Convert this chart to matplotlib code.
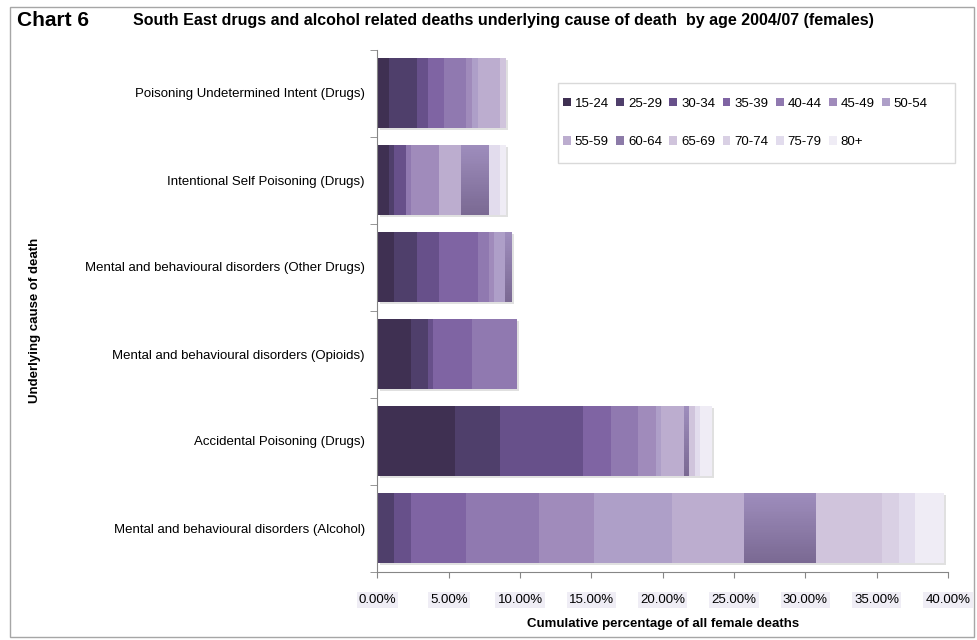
import numpy as np
import matplotlib
matplotlib.use("Agg")
import matplotlib.pyplot as plt
import matplotlib.patheffects as pe
from matplotlib.colors import LinearSegmentedColormap
from matplotlib.patches import Rectangle
from matplotlib.ticker import FixedLocator, PercentFormatter

plt.rcParams['font.family'] = ['Liberation Sans', 'DejaVu Sans']

# causes listed bottom to top
causes = [
    'Mental and behavioural disorders (Alcohol)',
    'Accidental Poisoning (Drugs)',
    'Mental and behavioural disorders (Opioids)',
    'Mental and behavioural disorders (Other Drugs)',
    'Intentional Self Poisoning (Drugs)',
    'Poisoning Undetermined Intent (Drugs)',
]

age_groups = ['15-24', '25-29', '30-34', '35-39', '40-44', '45-49', '50-54',
              '55-59', '60-64', '65-69', '70-74', '75-79', '80+']

# percentage of all female deaths, one list per age group (same order as causes)
pct_15_24 = [0.00, 5.42, 2.34, 1.14, 0.79, 0.79]
pct_25_29 = [1.13, 3.16, 1.19, 1.61, 0.35, 1.96]
pct_30_34 = [1.19, 5.82, 0.35, 1.54, 0.84, 0.77]
pct_35_39 = [3.86, 1.96, 2.73, 2.73, 0.00, 1.12]
pct_40_44 = [5.11, 1.89, 3.16, 0.77, 0.35, 1.54]
pct_45_49 = [3.87, 1.26, 0.00, 0.35, 1.96, 0.42]
pct_50_54 = [5.50, 0.35, 0.00, 0.77, 0.00, 0.42]
pct_55_59 = [5.05, 1.61, 0.00, 0.00, 1.54, 1.54]
pct_60_64 = [5.02, 0.35, 0.00, 0.49, 1.96, 0.00]
pct_65_69 = [4.61, 0.42, 0.00, 0.00, 0.00, 0.42]
pct_70_74 = [1.21, 0.00, 0.00, 0.00, 0.00, 0.00]
pct_75_79 = [1.11, 0.35, 0.00, 0.00, 0.77, 0.00]
pct_80 = [2.08, 0.84, 0.00, 0.00, 0.42, 0.00]

series = [pct_15_24, pct_25_29, pct_30_34, pct_35_39, pct_40_44, pct_45_49,
          pct_50_54, pct_55_59, pct_60_64, pct_65_69, pct_70_74, pct_75_79, pct_80]

colors = ['#3f3052', '#4f3f6b', '#67508a', '#7f64a3', '#9079b0', '#a08bbb',
          '#ae9fc8', '#bcadcf', '#8c7ba8', '#d0c4dc', '#d9d0e4', '#e2dced', '#efecf5']
# 60-64 is filled with a vertical gradient (dark at the bottom)
grad_cmap = LinearSegmentedColormap.from_list('g6064', ['#7a6993', '#9e8dbc'])

fig = plt.figure(figsize=(9.78, 6.4), dpi=100)
ax = fig.add_axes([377.5 / 978, 1 - 571.5 / 640, (948 - 377.5) / 978, (571.5 - 49.5) / 640])

y = np.arange(len(causes))
h = 0.805
totals = np.sum(series, axis=0)

# soft shadow under each whole bar
ax.barh(y, totals, height=h, color='none', zorder=1,
        path_effects=[pe.SimplePatchShadow(offset=(1.5, -1.5), shadow_rgbFace='#999999', alpha=0.3)])

left = np.zeros(len(causes))
handles = []
n_slices = 40
for i, (vals, col) in enumerate(zip(series, colors)):
    vals = np.array(vals)
    bars = ax.barh(y, vals, left=left, height=h, color=col, label=age_groups[i],
                   linewidth=0, zorder=2)
    handles.append(bars)
    if age_groups[i] == '60-64':
        # stack thin horizontal slices to build the gradient
        for k in range(n_slices):
            yk = y - h / 2 + (k + 0.5) * h / n_slices
            ax.barh(yk, vals, left=left, height=h / n_slices * 1.05,
                    color=grad_cmap(k / (n_slices - 1)), linewidth=0, zorder=3)
    left += vals

ax.set_xlim(0, 40)
ax.set_ylim(-0.5, len(causes) - 0.5)

ax.set_xticks(np.arange(0, 41, 5))
ax.xaxis.set_major_formatter(PercentFormatter(decimals=2))
ax.set_yticks(y)
ax.set_yticklabels(causes, fontsize=9.5)
ax.yaxis.set_minor_locator(FixedLocator(np.arange(-0.5, len(causes), 1)))
ax.tick_params(axis='y', which='major', length=0, pad=9)
ax.tick_params(axis='y', which='minor', length=5, color='#868686')
ax.tick_params(axis='x', length=4, color='#868686', labelsize=9.5, pad=12)
for lab in ax.get_xticklabels():
    lab.set_bbox(dict(facecolor='#efedf5', edgecolor='none', pad=1.5))

for s in ['top', 'right']:
    ax.spines[s].set_visible(False)
for s in ['left', 'bottom']:
    ax.spines[s].set_color('#868686')

ax.set_xlabel('Cumulative percentage of all female deaths', fontsize=9.5,
              fontweight='bold', labelpad=9)
ax.set_ylabel('Underlying cause of death', fontsize=9.5, fontweight='bold')
ax.yaxis.set_label_coords(41 / 978, 0.5, transform=fig.transFigure)

# legend in a framed box, laid out row by row
order = [0, 7, 1, 8, 2, 9, 3, 10, 4, 11, 5, 12, 6]
fig.patches.append(Rectangle((558 / 978, 1 - 163 / 640), (955 - 558) / 978, 80 / 640,
                             transform=fig.transFigure, facecolor='white',
                             edgecolor='#d9d9d9', linewidth=1, zorder=5))
leg = fig.legend([handles[k] for k in order], [age_groups[k] for k in order],
                 ncol=7, loc='center left', bbox_to_anchor=(563 / 978, 1 - 123 / 640),
                 frameon=False, fontsize=9.5, handlelength=0.6, handleheight=0.6,
                 handletextpad=0.3, columnspacing=0.55, labelspacing=2.0,
                 borderpad=0, borderaxespad=0)
leg.set_zorder(6)

fig.text(17 / 978, 1 - 20 / 640, 'Chart 6', fontsize=15, fontweight='bold',
         va='center', family=['Liberation Sans Narrow', 'Liberation Sans'])
fig.text(133 / 978, 1 - 20 / 640,
         'South East drugs and alcohol related deaths underlying cause of death  by age 2004/07 (females)',
         fontsize=11.5, fontweight='bold', va='center',
         family=['Liberation Sans Narrow', 'Liberation Sans'])

# outer frame
fig.patches.append(Rectangle((10 / 978, 3 / 640), 964 / 978, 630 / 640,
                             transform=fig.transFigure, facecolor='none',
                             edgecolor='#a6a6a6', linewidth=1))

fig.savefig('out.png', dpi=100)
